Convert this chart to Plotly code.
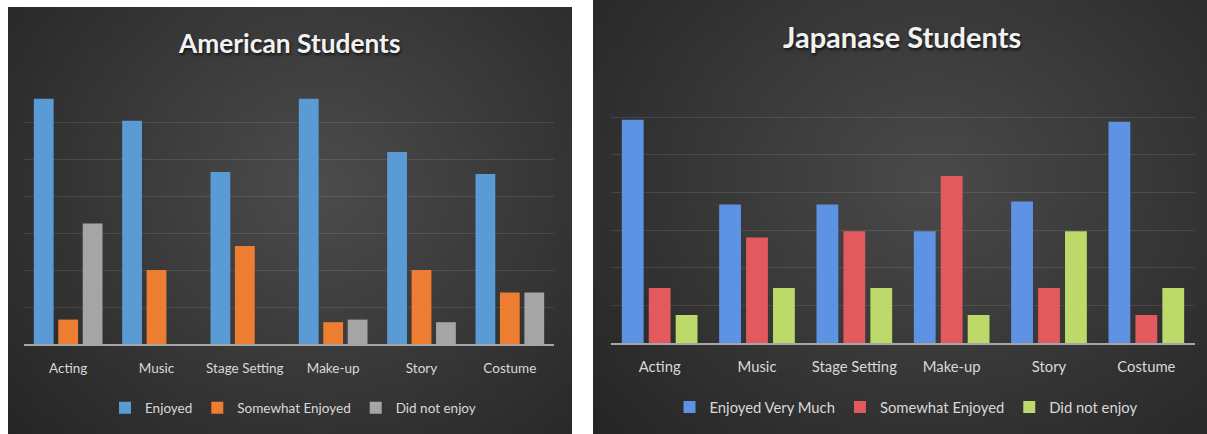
import base64
import math
import struct
import zlib

import plotly.graph_objects as go

# ---------------- data ----------------
categories = ["Acting", "Music", "Stage Setting", "Make-up", "Story", "Costume"]

us_series = ["Enjoyed", "Somewhat Enjoyed", "Did not enjoy"]
us_enjoyed = [66.3, 60.4, 46.5, 66.3, 51.9, 46.0]
us_somewhat = [6.6, 20.0, 26.5, 5.9, 20.0, 13.9]
us_not = [32.6, 0, 0, 6.6, 5.9, 13.9]

jp_series = ["Enjoyed Very Much", "Somewhat Enjoyed", "Did not enjoy"]
jp_very_much = [59.3, 36.8, 36.8, 29.7, 37.6, 58.8]
jp_somewhat = [14.7, 28.1, 29.7, 44.4, 14.7, 7.5]
jp_not = [7.5, 14.7, 14.7, 7.5, 29.7, 14.7]

us_colors = ["#5b9bd5", "#ed7d31", "#a5a5a5"]
jp_colors = ["#5e93e3", "#e25a5e", "#bcd96a"]

W, H = 1207, 434
FONT = "Lato, sans-serif"


# ---------------- background gradient image ----------------
def gradient_png(w, h, cx, cy, sx, sy, inner, outer):
    rows = []
    for j in range(h):
        row = bytearray([0])
        for i in range(w):
            x = (i + 0.5) / w
            y = (j + 0.5) / h
            d = math.sqrt(((x - cx) / sx) ** 2 + ((y - cy) / sy) ** 2)
            t = min(1.0, d)
            for k in range(3):
                row.append(int(round(inner[k] + (outer[k] - inner[k]) * t)))
        rows.append(bytes(row))
    raw = b"".join(rows)

    def chunk(tag, data):
        c = struct.pack(">I", len(data)) + tag + data
        return c + struct.pack(">I", zlib.crc32(tag + data) & 0xFFFFFFFF)

    png = b"\x89PNG\r\n\x1a\n"
    png += chunk(b"IHDR", struct.pack(">IIBBBBB", w, h, 8, 2, 0, 0, 0))
    png += chunk(b"IDAT", zlib.compress(raw, 9))
    png += chunk(b"IEND", b"")
    return "data:image/png;base64," + base64.b64encode(png).decode()


bg_left = gradient_png(96, 72, 0.55, 0.42, 0.75, 0.9, (76, 76, 76), (36, 36, 36))
bg_right = gradient_png(96, 72, 0.55, 0.42, 0.75, 0.9, (74, 74, 74), (36, 36, 36))

fig = go.Figure()

for name, vals, col in zip(us_series, [us_enjoyed, us_somewhat, us_not], us_colors):
    fig.add_trace(go.Bar(
        x=categories, y=vals, name=name, marker=dict(color=col, line=dict(width=0)),
        xaxis="x", yaxis="y", legend="legend",
    ))

for name, vals, col in zip(jp_series, [jp_very_much, jp_somewhat, jp_not], jp_colors):
    fig.add_trace(go.Bar(
        x=categories, y=vals, name=name, marker=dict(color=col, line=dict(width=0)),
        xaxis="x2", yaxis="y2", legend="legend2",
    ))

grid_col = "rgba(255,255,255,0.10)"
axis_line = "#a6a6a6"
tick_col = "#d9d9d9"

common_x = dict(
    type="category", showgrid=False, zeroline=False, showline=True,
    linecolor=axis_line, linewidth=2, ticks="",
)
common_y = dict(
    range=[0, 70.05], dtick=10, showgrid=True, gridcolor=grid_col, gridwidth=1,
    zeroline=False, showticklabels=False, showline=False, ticks="",
)

fig.update_layout(
    width=W, height=H,
    margin=dict(l=0, r=0, t=0, b=0),
    paper_bgcolor="white",
    plot_bgcolor="rgba(0,0,0,0)",
    barmode="group",
    bargap=0.17,
    bargroupgap=0.19,
    showlegend=True,
    xaxis=dict(domain=[24 / W, 554 / W], anchor="y", ticklabelstandoff=11,
               tickfont=dict(family=FONT, color=tick_col, size=13.5), **common_x),
    yaxis=dict(domain=[1 - 344 / H, 1 - 85 / H], anchor="x", **common_y),
    xaxis2=dict(domain=[611 / W, 1195 / W], anchor="y2", ticklabelstandoff=9,
                tickfont=dict(family=FONT, color=tick_col, size=14.8), **common_x),
    yaxis2=dict(domain=[1 - 343.3 / H, 1 - 79.3 / H], anchor="x2", **common_y),
    legend=dict(
        orientation="h", x=293 / W, xanchor="center", y=1 - 408 / H, yanchor="middle",
        font=dict(family=FONT, size=13.5, color=tick_col), bgcolor="rgba(0,0,0,0)",
        itemwidth=30, traceorder="normal",
    ),
    legend2=dict(
        orientation="h", x=906 / W, xanchor="center", y=1 - 407.5 / H, yanchor="middle",
        font=dict(family=FONT, size=14.8, color=tick_col), bgcolor="rgba(0,0,0,0)",
        itemwidth=30, traceorder="normal",
    ),
    images=[
        dict(source=bg_left, xref="paper", yref="paper", x=8 / W, y=1 - 7 / H,
             sizex=(572 - 8) / W, sizey=(434 - 7) / H, sizing="stretch",
             xanchor="left", yanchor="top", layer="below"),
        dict(source=bg_right, xref="paper", yref="paper", x=593 / W, y=1.0,
             sizex=(W - 593) / W, sizey=1.0, sizing="stretch",
             xanchor="left", yanchor="top", layer="below"),
    ],
    annotations=[
        dict(text="<b>American Students</b>", xref="paper", yref="paper",
             x=288.5 / W, y=1 - 43 / H, xanchor="center", yanchor="middle",
             showarrow=False,
             font=dict(family=FONT, size=26.3, color="#f2f2f2",
                       shadow="1px 2px 3px rgba(0,0,0,0.7)")),
        dict(text="<b>Japanase Students</b>", xref="paper", yref="paper",
             x=902 / W, y=1 - 36.7 / H, xanchor="center", yanchor="middle",
             showarrow=False,
             font=dict(family=FONT, size=29, color="#f2f2f2",
                       shadow="1px 2px 3px rgba(0,0,0,0.7)")),
    ],
)

fig.write_html("out.html", config={"displayModeBar": False},
               post_script="document.body.style.margin='0';")
